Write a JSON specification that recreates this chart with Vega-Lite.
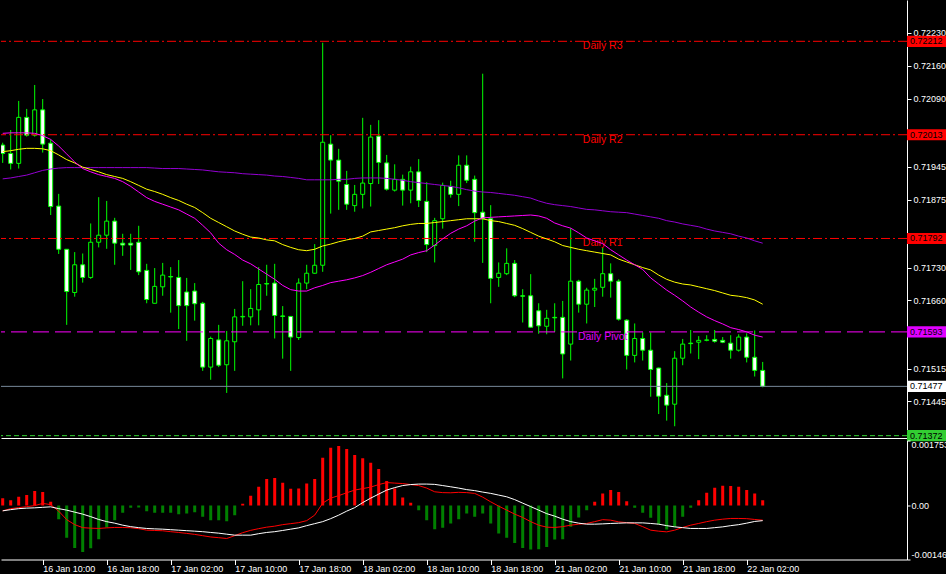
{
"$schema":"https://vega.github.io/schema/vega-lite/v6.json",
"background":"black",
"padding":0,
"spacing":2.5,
"bounds":"flush",
"config":{"view":{"stroke":null},"font":"Liberation Sans","scale":{"continuousPadding":0},"axis":{"labelFont":"Liberation Sans","labelFontSize":9,"labelColor":"white","domainColor":"white","tickColor":"white","grid":false}},
"datasets":{
"levels":[
{"name":"Daily R3","price":0.72212,"kind":"R","at":75},
{"name":"Daily R2","price":0.72013,"kind":"R","at":75},
{"name":"Daily R1","price":0.71792,"kind":"R","at":75},
{"name":"Daily Pivot","price":0.71593,"kind":"P","at":75},
{"name":"","price":0.71477,"kind":"cur","at":75},
{"name":"","price":0.71372,"kind":"S","at":75}],
"bars":[
{"i":0,"o":0.71991,"h":0.71996,"l":0.71953,"c":0.71973,"mf":0.72016,"mm":0.71977,"ms":0.71919,"hist":0.000197,"macd":-0.000146,"sig":-0.000146},
{"i":1,"o":0.71973,"h":0.72023,"l":0.71939,"c":0.71952,"mf":0.72017,"mm":0.71979,"ms":0.71921,"hist":0.000143,"macd":-0.000087,"sig":-0.000114},
{"i":2,"o":0.71952,"h":0.72085,"l":0.71941,"c":0.72050,"mf":0.72017,"mm":0.71982,"ms":0.71924,"hist":0.000233,"macd":-0.000060,"sig":-0.000087},
{"i":3,"o":0.72050,"h":0.72068,"l":0.72009,"c":0.72012,"mf":0.72017,"mm":0.71984,"ms":0.71927,"hist":0.000279,"macd":-0.000032,"sig":-0.000073},
{"i":4,"o":0.72012,"h":0.72119,"l":0.72009,"c":0.72066,"mf":0.72016,"mm":0.71984,"ms":0.71932,"hist":0.000387,"macd":-0.000005,"sig":-0.000065},
{"i":5,"o":0.72066,"h":0.72089,"l":0.71975,"c":0.71993,"mf":0.72011,"mm":0.71983,"ms":0.71937,"hist":0.000360,"macd":0.000054,"sig":-0.000051},
{"i":6,"o":0.71995,"h":0.72003,"l":0.71842,"c":0.71860,"mf":0.72003,"mm":0.71979,"ms":0.71940,"hist":0.000097,"macd":0.000022,"sig":-0.000038},
{"i":7,"o":0.71861,"h":0.71887,"l":0.71759,"c":0.71769,"mf":0.71989,"mm":0.71970,"ms":0.71942,"hist":-0.000371,"macd":-0.000154,"sig":-0.000087},
{"i":8,"o":0.71769,"h":0.71769,"l":0.71608,"c":0.71679,"mf":0.71972,"mm":0.71960,"ms":0.71943,"hist":-0.000876,"macd":-0.000384,"sig":-0.000127},
{"i":9,"o":0.71677,"h":0.71763,"l":0.71668,"c":0.71736,"mf":0.71955,"mm":0.71953,"ms":0.71943,"hist":-0.001147,"macd":-0.000519,"sig":-0.000181},
{"i":10,"o":0.71736,"h":0.71760,"l":0.71698,"c":0.71709,"mf":0.71941,"mm":0.71944,"ms":0.71943,"hist":-0.001255,"macd":-0.000600,"sig":-0.000235},
{"i":11,"o":0.71709,"h":0.71824,"l":0.71706,"c":0.71784,"mf":0.71934,"mm":0.71939,"ms":0.71943,"hist":-0.001155,"macd":-0.000614,"sig":-0.000303},
{"i":12,"o":0.71784,"h":0.71880,"l":0.71773,"c":0.71799,"mf":0.71928,"mm":0.71934,"ms":0.71943,"hist":-0.000911,"macd":-0.000622,"sig":-0.000379},
{"i":13,"o":0.71799,"h":0.71872,"l":0.71770,"c":0.71829,"mf":0.71924,"mm":0.71928,"ms":0.71943,"hist":-0.000595,"macd":-0.000606,"sig":-0.000438},
{"i":14,"o":0.71829,"h":0.71836,"l":0.71736,"c":0.71782,"mf":0.71920,"mm":0.71924,"ms":0.71943,"hist":-0.000398,"macd":-0.000595,"sig":-0.000479},
{"i":15,"o":0.71782,"h":0.71802,"l":0.71755,"c":0.71778,"mf":0.71913,"mm":0.71920,"ms":0.71943,"hist":-0.000200,"macd":-0.000595,"sig":-0.000533},
{"i":16,"o":0.71782,"h":0.71802,"l":0.71725,"c":0.71778,"mf":0.71903,"mm":0.71913,"ms":0.71943,"hist":-0.000065,"macd":-0.000603,"sig":-0.000573},
{"i":17,"o":0.71784,"h":0.71819,"l":0.71714,"c":0.71721,"mf":0.71891,"mm":0.71905,"ms":0.71943,"hist":-0.000054,"macd":-0.000627,"sig":-0.000600},
{"i":18,"o":0.71724,"h":0.71738,"l":0.71654,"c":0.71662,"mf":0.71879,"mm":0.71897,"ms":0.71943,"hist":-0.000154,"macd":-0.000668,"sig":-0.000622},
{"i":19,"o":0.71654,"h":0.71729,"l":0.71654,"c":0.71690,"mf":0.71871,"mm":0.71892,"ms":0.71942,"hist":-0.000200,"macd":-0.000676,"sig":-0.000633},
{"i":20,"o":0.71689,"h":0.71740,"l":0.71670,"c":0.71714,"mf":0.71865,"mm":0.71886,"ms":0.71941,"hist":-0.000200,"macd":-0.000684,"sig":-0.000641},
{"i":21,"o":0.71711,"h":0.71731,"l":0.71634,"c":0.71710,"mf":0.71859,"mm":0.71879,"ms":0.71941,"hist":-0.000200,"macd":-0.000709,"sig":-0.000655},
{"i":22,"o":0.71709,"h":0.71746,"l":0.71599,"c":0.71649,"mf":0.71853,"mm":0.71873,"ms":0.71941,"hist":-0.000235,"macd":-0.000730,"sig":-0.000668},
{"i":23,"o":0.71678,"h":0.71708,"l":0.71574,"c":0.71649,"mf":0.71844,"mm":0.71865,"ms":0.71940,"hist":-0.000216,"macd":-0.000755,"sig":-0.000682},
{"i":24,"o":0.71680,"h":0.71697,"l":0.71617,"c":0.71653,"mf":0.71835,"mm":0.71858,"ms":0.71939,"hist":-0.000181,"macd":-0.000782,"sig":-0.000695},
{"i":25,"o":0.71654,"h":0.71657,"l":0.71510,"c":0.71518,"mf":0.71820,"mm":0.71847,"ms":0.71938,"hist":-0.000308,"macd":-0.000817,"sig":-0.000709},
{"i":26,"o":0.71518,"h":0.71583,"l":0.71491,"c":0.71579,"mf":0.71804,"mm":0.71835,"ms":0.71936,"hist":-0.000398,"macd":-0.000852,"sig":-0.000730},
{"i":27,"o":0.71576,"h":0.71608,"l":0.71518,"c":0.71522,"mf":0.71782,"mm":0.71826,"ms":0.71934,"hist":-0.000398,"macd":-0.000871,"sig":-0.000749},
{"i":28,"o":0.71523,"h":0.71595,"l":0.71463,"c":0.71574,"mf":0.71768,"mm":0.71817,"ms":0.71933,"hist":-0.000425,"macd":-0.000893,"sig":-0.000776},
{"i":29,"o":0.71572,"h":0.71642,"l":0.71510,"c":0.71625,"mf":0.71758,"mm":0.71808,"ms":0.71932,"hist":-0.000262,"macd":-0.000817,"sig":-0.000803},
{"i":30,"o":0.71625,"h":0.71701,"l":0.71606,"c":0.71626,"mf":0.71746,"mm":0.71801,"ms":0.71930,"hist":0.000043,"macd":-0.000736,"sig":-0.000803},
{"i":31,"o":0.71625,"h":0.71684,"l":0.71607,"c":0.71643,"mf":0.71738,"mm":0.71795,"ms":0.71929,"hist":0.000260,"macd":-0.000673,"sig":-0.000803},
{"i":32,"o":0.71640,"h":0.71731,"l":0.71607,"c":0.71694,"mf":0.71727,"mm":0.71793,"ms":0.71928,"hist":0.000503,"macd":-0.000627,"sig":-0.000763},
{"i":33,"o":0.71696,"h":0.71736,"l":0.71670,"c":0.71695,"mf":0.71716,"mm":0.71789,"ms":0.71927,"hist":0.000711,"macd":-0.000587,"sig":-0.000730},
{"i":34,"o":0.71697,"h":0.71738,"l":0.71579,"c":0.71628,"mf":0.71705,"mm":0.71787,"ms":0.71925,"hist":0.000738,"macd":-0.000560,"sig":-0.000709},
{"i":35,"o":0.71627,"h":0.71648,"l":0.71536,"c":0.71626,"mf":0.71692,"mm":0.71779,"ms":0.71924,"hist":0.000611,"macd":-0.000519,"sig":-0.000676},
{"i":36,"o":0.71626,"h":0.71626,"l":0.71510,"c":0.71582,"mf":0.71683,"mm":0.71773,"ms":0.71922,"hist":0.000449,"macd":-0.000492,"sig":-0.000641},
{"i":37,"o":0.71581,"h":0.71707,"l":0.71576,"c":0.71697,"mf":0.71680,"mm":0.71768,"ms":0.71920,"hist":0.000460,"macd":-0.000465,"sig":-0.000606},
{"i":38,"o":0.71697,"h":0.71736,"l":0.71684,"c":0.71718,"mf":0.71680,"mm":0.71766,"ms":0.71917,"hist":0.000595,"macd":-0.000411,"sig":-0.000546},
{"i":39,"o":0.71718,"h":0.71780,"l":0.71717,"c":0.71735,"mf":0.71687,"mm":0.71769,"ms":0.71917,"hist":0.000711,"macd":-0.000262,"sig":-0.000492},
{"i":40,"o":0.71735,"h":0.72209,"l":0.71721,"c":0.71997,"mf":0.71692,"mm":0.71776,"ms":0.71917,"hist":0.001287,"macd":0.000062,"sig":-0.000438},
{"i":41,"o":0.71993,"h":0.72012,"l":0.71845,"c":0.71959,"mf":0.71698,"mm":0.71780,"ms":0.71917,"hist":0.001558,"macd":0.000197,"sig":-0.000357},
{"i":42,"o":0.71959,"h":0.71983,"l":0.71853,"c":0.71914,"mf":0.71701,"mm":0.71785,"ms":0.71918,"hist":0.001604,"macd":0.000265,"sig":-0.000262},
{"i":43,"o":0.71907,"h":0.71936,"l":0.71853,"c":0.71865,"mf":0.71704,"mm":0.71789,"ms":0.71918,"hist":0.001523,"macd":0.000341,"sig":-0.000154},
{"i":44,"o":0.71862,"h":0.71906,"l":0.71849,"c":0.71886,"mf":0.71708,"mm":0.71792,"ms":0.71920,"hist":0.001360,"macd":0.000414,"sig":-0.000060},
{"i":45,"o":0.71886,"h":0.72049,"l":0.71856,"c":0.71910,"mf":0.71713,"mm":0.71797,"ms":0.71921,"hist":0.001271,"macd":0.000454,"sig":0.000076},
{"i":46,"o":0.71909,"h":0.72034,"l":0.71860,"c":0.72008,"mf":0.71720,"mm":0.71806,"ms":0.71921,"hist":0.001152,"macd":0.000495,"sig":0.000197},
{"i":47,"o":0.72010,"h":0.72044,"l":0.71908,"c":0.71954,"mf":0.71728,"mm":0.71809,"ms":0.71921,"hist":0.000982,"macd":0.000563,"sig":0.000306},
{"i":48,"o":0.71953,"h":0.71970,"l":0.71894,"c":0.71897,"mf":0.71736,"mm":0.71812,"ms":0.71920,"hist":0.000657,"macd":0.000617,"sig":0.000414},
{"i":49,"o":0.71895,"h":0.71950,"l":0.71892,"c":0.71918,"mf":0.71742,"mm":0.71815,"ms":0.71918,"hist":0.000460,"macd":0.000603,"sig":0.000481},
{"i":50,"o":0.71918,"h":0.71928,"l":0.71862,"c":0.71895,"mf":0.71748,"mm":0.71819,"ms":0.71916,"hist":0.000216,"macd":0.000590,"sig":0.000536},
{"i":51,"o":0.71895,"h":0.71945,"l":0.71867,"c":0.71934,"mf":0.71757,"mm":0.71822,"ms":0.71913,"hist":0.000070,"macd":0.000563,"sig":0.000563},
{"i":52,"o":0.71934,"h":0.71961,"l":0.71859,"c":0.71873,"mf":0.71762,"mm":0.71824,"ms":0.71911,"hist":-0.000127,"macd":0.000536,"sig":0.000576},
{"i":53,"o":0.71871,"h":0.71912,"l":0.71763,"c":0.71779,"mf":0.71766,"mm":0.71824,"ms":0.71909,"hist":-0.000398,"macd":0.000468,"sig":0.000576},
{"i":54,"o":0.71777,"h":0.71836,"l":0.71741,"c":0.71830,"mf":0.71778,"mm":0.71826,"ms":0.71907,"hist":-0.000641,"macd":0.000368,"sig":0.000568},
{"i":55,"o":0.71834,"h":0.71911,"l":0.71813,"c":0.71905,"mf":0.71791,"mm":0.71828,"ms":0.71905,"hist":-0.000606,"macd":0.000346,"sig":0.000536},
{"i":56,"o":0.71903,"h":0.71915,"l":0.71879,"c":0.71886,"mf":0.71803,"mm":0.71830,"ms":0.71903,"hist":-0.000487,"macd":0.000341,"sig":0.000503},
{"i":57,"o":0.71886,"h":0.71969,"l":0.71861,"c":0.71948,"mf":0.71812,"mm":0.71832,"ms":0.71900,"hist":-0.000371,"macd":0.000354,"sig":0.000468},
{"i":58,"o":0.71948,"h":0.71969,"l":0.71910,"c":0.71916,"mf":0.71819,"mm":0.71834,"ms":0.71896,"hist":-0.000216,"macd":0.000346,"sig":0.000427},
{"i":59,"o":0.71918,"h":0.71926,"l":0.71785,"c":0.71847,"mf":0.71829,"mm":0.71834,"ms":0.71893,"hist":-0.000308,"macd":0.000325,"sig":0.000400},
{"i":60,"o":0.71848,"h":0.72143,"l":0.71740,"c":0.71834,"mf":0.71836,"mm":0.71834,"ms":0.71891,"hist":-0.000216,"macd":0.000224,"sig":0.000360},
{"i":61,"o":0.71834,"h":0.71863,"l":0.71654,"c":0.71707,"mf":0.71837,"mm":0.71830,"ms":0.71890,"hist":-0.000487,"macd":0.000097,"sig":0.000325},
{"i":62,"o":0.71709,"h":0.71741,"l":0.71689,"c":0.71718,"mf":0.71838,"mm":0.71828,"ms":0.71888,"hist":-0.000757,"macd":-0.000019,"sig":0.000279},
{"i":63,"o":0.71717,"h":0.71771,"l":0.71714,"c":0.71739,"mf":0.71839,"mm":0.71824,"ms":0.71886,"hist":-0.000876,"macd":-0.000127,"sig":0.000233},
{"i":64,"o":0.71739,"h":0.71746,"l":0.71667,"c":0.71670,"mf":0.71840,"mm":0.71820,"ms":0.71884,"hist":-0.001012,"macd":-0.000235,"sig":0.000157},
{"i":65,"o":0.71670,"h":0.71684,"l":0.71613,"c":0.71669,"mf":0.71841,"mm":0.71813,"ms":0.71881,"hist":-0.001147,"macd":-0.000325,"sig":0.000062},
{"i":66,"o":0.71670,"h":0.71716,"l":0.71602,"c":0.71603,"mf":0.71842,"mm":0.71805,"ms":0.71878,"hist":-0.001190,"macd":-0.000438,"sig":-0.000032},
{"i":67,"o":0.71638,"h":0.71654,"l":0.71589,"c":0.71606,"mf":0.71840,"mm":0.71797,"ms":0.71872,"hist":-0.001182,"macd":-0.000533,"sig":-0.000127},
{"i":68,"o":0.71605,"h":0.71640,"l":0.71588,"c":0.71622,"mf":0.71835,"mm":0.71791,"ms":0.71867,"hist":-0.001120,"macd":-0.000587,"sig":-0.000222},
{"i":69,"o":0.71624,"h":0.71654,"l":0.71593,"c":0.71623,"mf":0.71825,"mm":0.71785,"ms":0.71864,"hist":-0.000920,"macd":-0.000595,"sig":-0.000289},
{"i":70,"o":0.71624,"h":0.71659,"l":0.71494,"c":0.71546,"mf":0.71819,"mm":0.71777,"ms":0.71862,"hist":-0.000911,"macd":-0.000573,"sig":-0.000371},
{"i":71,"o":0.71567,"h":0.71814,"l":0.71532,"c":0.71701,"mf":0.71814,"mm":0.71773,"ms":0.71860,"hist":-0.000579,"macd":-0.000533,"sig":-0.000438},
{"i":72,"o":0.71701,"h":0.71704,"l":0.71634,"c":0.71652,"mf":0.71804,"mm":0.71769,"ms":0.71857,"hist":-0.000325,"macd":-0.000506,"sig":-0.000479},
{"i":73,"o":0.71652,"h":0.71687,"l":0.71611,"c":0.71682,"mf":0.71793,"mm":0.71766,"ms":0.71854,"hist":-0.000127,"macd":-0.000487,"sig":-0.000506},
{"i":74,"o":0.71682,"h":0.71706,"l":0.71646,"c":0.71686,"mf":0.71787,"mm":0.71763,"ms":0.71853,"hist":0.000097,"macd":-0.000438,"sig":-0.000506},
{"i":75,"o":0.71688,"h":0.71772,"l":0.71668,"c":0.71717,"mf":0.71781,"mm":0.71760,"ms":0.71851,"hist":0.000325,"macd":-0.000384,"sig":-0.000498},
{"i":76,"o":0.71717,"h":0.71739,"l":0.71666,"c":0.71701,"mf":0.71768,"mm":0.71757,"ms":0.71849,"hist":0.000414,"macd":-0.000398,"sig":-0.000487},
{"i":77,"o":0.71701,"h":0.71705,"l":0.71617,"c":0.71620,"mf":0.71757,"mm":0.71748,"ms":0.71848,"hist":0.000360,"macd":-0.000444,"sig":-0.000479},
{"i":78,"o":0.71618,"h":0.71620,"l":0.71513,"c":0.71543,"mf":0.71746,"mm":0.71742,"ms":0.71847,"hist":0.000116,"macd":-0.000465,"sig":-0.000471},
{"i":79,"o":0.71543,"h":0.71611,"l":0.71528,"c":0.71579,"mf":0.71736,"mm":0.71736,"ms":0.71844,"hist":-0.000065,"macd":-0.000487,"sig":-0.000471},
{"i":80,"o":0.71579,"h":0.71592,"l":0.71532,"c":0.71554,"mf":0.71726,"mm":0.71730,"ms":0.71841,"hist":-0.000200,"macd":-0.000573,"sig":-0.000471},
{"i":81,"o":0.71554,"h":0.71592,"l":0.71455,"c":0.71513,"mf":0.71708,"mm":0.71725,"ms":0.71838,"hist":-0.000335,"macd":-0.000668,"sig":-0.000487},
{"i":82,"o":0.71516,"h":0.71517,"l":0.71418,"c":0.71456,"mf":0.71695,"mm":0.71714,"ms":0.71835,"hist":-0.000514,"macd":-0.000695,"sig":-0.000506},
{"i":83,"o":0.71458,"h":0.71484,"l":0.71404,"c":0.71437,"mf":0.71682,"mm":0.71705,"ms":0.71830,"hist":-0.000649,"macd":-0.000714,"sig":-0.000546},
{"i":84,"o":0.71439,"h":0.71552,"l":0.71392,"c":0.71537,"mf":0.71671,"mm":0.71699,"ms":0.71827,"hist":-0.000579,"macd":-0.000668,"sig":-0.000579},
{"i":85,"o":0.71537,"h":0.71578,"l":0.71522,"c":0.71567,"mf":0.71659,"mm":0.71695,"ms":0.71823,"hist":-0.000308,"macd":-0.000595,"sig":-0.000600},
{"i":86,"o":0.71569,"h":0.71597,"l":0.71547,"c":0.71568,"mf":0.71646,"mm":0.71693,"ms":0.71820,"hist":-0.000065,"macd":-0.000533,"sig":-0.000622},
{"i":87,"o":0.71571,"h":0.71584,"l":0.71535,"c":0.71575,"mf":0.71635,"mm":0.71689,"ms":0.71817,"hist":0.000143,"macd":-0.000487,"sig":-0.000622},
{"i":88,"o":0.71575,"h":0.71586,"l":0.71573,"c":0.71576,"mf":0.71625,"mm":0.71685,"ms":0.71812,"hist":0.000341,"macd":-0.000438,"sig":-0.000622},
{"i":89,"o":0.71577,"h":0.71597,"l":0.71570,"c":0.71573,"mf":0.71617,"mm":0.71681,"ms":0.71808,"hist":0.000476,"macd":-0.000398,"sig":-0.000600},
{"i":90,"o":0.71575,"h":0.71582,"l":0.71569,"c":0.71571,"mf":0.71610,"mm":0.71676,"ms":0.71805,"hist":0.000530,"macd":-0.000371,"sig":-0.000579},
{"i":91,"o":0.71569,"h":0.71586,"l":0.71536,"c":0.71554,"mf":0.71602,"mm":0.71671,"ms":0.71802,"hist":0.000522,"macd":-0.000352,"sig":-0.000546},
{"i":92,"o":0.71554,"h":0.71588,"l":0.71551,"c":0.71582,"mf":0.71598,"mm":0.71669,"ms":0.71797,"hist":0.000503,"macd":-0.000352,"sig":-0.000519},
{"i":93,"o":0.71582,"h":0.71590,"l":0.71528,"c":0.71539,"mf":0.71593,"mm":0.71666,"ms":0.71793,"hist":0.000414,"macd":-0.000357,"sig":-0.000479},
{"i":94,"o":0.71539,"h":0.71596,"l":0.71498,"c":0.71511,"mf":0.71586,"mm":0.71661,"ms":0.71787,"hist":0.000325,"macd":-0.000379,"sig":-0.000433},
{"i":95,"o":0.71511,"h":0.71529,"l":0.71475,"c":0.71477,"mf":0.71582,"mm":0.71652,"ms":0.71782,"hist":0.000143,"macd":-0.000398,"sig":-0.000411}
]},
"vconcat":[
{"width":906,"height":438,
"layer":[
{"data":{"name":"bars"},"mark":{"type":"rule","stroke":"#00FF00","strokeWidth":1,"clip":true},
"encoding":{
"x":{"field":"i","type":"quantitative","title":null,"scale":{"domain":[-0.2125,113.0375],"nice":false,"zero":false,"padding":0},
"axis":{"orient":"bottom","labels":false,"ticks":false,"domain":true,"domainColor":"white","title":null,"minExtent":0,"maxExtent":1}},
"y":{"field":"l","type":"quantitative","title":null,"scale":{"domain":[0.71367,0.723],"nice":false,"zero":false,"padding":0},
"axis":{"orient":"right","values":[0.7223,0.7216,0.7209,0.71945,0.71875,0.7173,0.7166,0.71515,0.71445],"format":".5f","tickSize":4,"labelPadding":2,"labelFlush":false,"labelOverlap":false,"title":null}},
"y2":{"field":"h"}}},
{"data":{"name":"bars"},"mark":{"type":"bar","size":4,"stroke":"#00FF00","strokeWidth":1,"clip":true},
"encoding":{
"x":{"field":"i","type":"quantitative","title":null,"scale":{"domain":[-0.2125,113.0375],"nice":false,"zero":false,"padding":0}},
"y":{"field":"o","type":"quantitative","title":null,"scale":{"domain":[0.71367,0.723],"nice":false,"zero":false,"padding":0}},
"y2":{"field":"c"},
"fill":{"condition":{"test":"datum.c < datum.o","value":"#FFFFFF"},"value":"#000000"}}},
{"data":{"name":"levels"},"mark":{"type":"rule","strokeWidth":1},
"encoding":{
"y":{"field":"price","type":"quantitative","title":null,"scale":{"domain":[0.71367,0.723],"nice":false,"zero":false,"padding":0}},
"stroke":{"field":"kind","type":"nominal","scale":{"domain":["R","P","cur","S"],"range":["#FF0000","#FF00FF","#778899","#32CD32"]},"legend":null},
"strokeDash":{"field":"kind","type":"nominal","scale":{"domain":["R","P","cur","S"],"range":[[9,3,2,3],[16,6],[1,0],[5,3]]},"legend":null}}},
{"data":{"name":"levels"},"transform":[{"filter":"datum.name != ''"}],
"mark":{"type":"text","align":"center","baseline":"top","dy":0,"font":"Liberation Sans","fontSize":10.5},
"encoding":{
"x":{"field":"at","type":"quantitative","title":null,"scale":{"domain":[-0.2125,113.0375],"nice":false,"zero":false,"padding":0}},
"y":{"field":"price","type":"quantitative","title":null,"scale":{"domain":[0.71367,0.723],"nice":false,"zero":false,"padding":0}},
"text":{"field":"name"},
"fill":{"field":"kind","type":"nominal","scale":{"domain":["R","P","cur","S"],"range":["#FF0000","#E000FF","#FFFFFF","#32CD32"]},"legend":null}}},
{"data":{"name":"bars"},"mark":{"type":"line","stroke":"#9400D3","strokeWidth":1,"clip":true},
"encoding":{
"x":{"field":"i","type":"quantitative","title":null,"scale":{"domain":[-0.2125,113.0375],"nice":false,"zero":false,"padding":0}},
"y":{"field":"ms","type":"quantitative","title":null,"scale":{"domain":[0.71367,0.723],"nice":false,"zero":false,"padding":0}}}},
{"data":{"name":"bars"},"mark":{"type":"line","stroke":"#FFFF00","strokeWidth":1,"clip":true},
"encoding":{
"x":{"field":"i","type":"quantitative","title":null,"scale":{"domain":[-0.2125,113.0375],"nice":false,"zero":false,"padding":0}},
"y":{"field":"mm","type":"quantitative","title":null,"scale":{"domain":[0.71367,0.723],"nice":false,"zero":false,"padding":0}}}},
{"data":{"name":"bars"},"mark":{"type":"line","stroke":"#FF00FF","strokeWidth":1,"clip":true},
"encoding":{
"x":{"field":"i","type":"quantitative","title":null,"scale":{"domain":[-0.2125,113.0375],"nice":false,"zero":false,"padding":0}},
"y":{"field":"mf","type":"quantitative","title":null,"scale":{"domain":[0.71367,0.723],"nice":false,"zero":false,"padding":0}}}},
{"data":{"name":"levels"},"mark":{"type":"point","shape":"M0,-0.28H2V0.28H0Z","size":1600,"filled":true,"opacity":1,"strokeWidth":0},
"encoding":{
"x":{"value":"width"},
"y":{"field":"price","type":"quantitative","title":null,"scale":{"domain":[0.71367,0.723],"nice":false,"zero":false,"padding":0}},
"fill":{"field":"kind","type":"nominal","scale":{"domain":["R","P","cur","S"],"range":["#FF0000","#E000FF","#FFFFFF","#32CD32"]},"legend":null}}},
{"data":{"name":"levels"},"mark":{"type":"text","align":"left","baseline":"middle","dx":3,"font":"Liberation Sans","fontSize":9,"fill":"#000000"},
"encoding":{
"x":{"value":"width"},
"y":{"field":"price","type":"quantitative","title":null,"scale":{"domain":[0.71367,0.723],"nice":false,"zero":false,"padding":0}},
"text":{"field":"price","type":"quantitative","format":".5f"}}}
]},
{"width":906,"height":119,"data":{"name":"bars"},
"layer":[
{"mark":{"type":"bar","size":3,"clip":true},
"encoding":{
"x":{"field":"i","type":"quantitative","title":null,"scale":{"domain":[-0.2125,113.0375],"nice":false,"zero":false,"padding":0},
"axis":{"orient":"bottom","values":[5,13,21,29,37,45,53,61,69,77,85,93],
"labelExpr":"['16 Jan 10:00','16 Jan 18:00','17 Jan 02:00','17 Jan 10:00','17 Jan 18:00','18 Jan 02:00','18 Jan 10:00','18 Jan 18:00','21 Jan 02:00','21 Jan 10:00','21 Jan 18:00','22 Jan 02:00'][(datum.value-5)/8]",
"labelAlign":"left","labelBaseline":"top","labelPadding":0,"labelFlush":false,"labelOverlap":false,"tickSize":5,"title":null}},
"y":{"field":"hist","type":"quantitative","title":null,"scale":{"domain":[-0.00146,0.001753],"nice":false,"zero":false,"padding":0},
"axis":{"orient":"right","values":[-0.00146,0,0.001753],"labelExpr":"datum.value == 0 ? '0.00' : '' + datum.value","tickSize":3,"labelPadding":1,"labelFlush":true,"labelOverlap":false,"title":null}},
"y2":{"datum":0},
"fill":{"condition":{"test":"datum.hist >= 0","value":"#FF0000"},"value":"#008000"}}},
{"mark":{"type":"line","stroke":"#FF0000","strokeWidth":1,"clip":true},
"encoding":{
"x":{"field":"i","type":"quantitative","title":null,"scale":{"domain":[-0.2125,113.0375],"nice":false,"zero":false,"padding":0}},
"y":{"field":"macd","type":"quantitative","title":null,"scale":{"domain":[-0.00146,0.001753],"nice":false,"zero":false,"padding":0}}}},
{"mark":{"type":"line","stroke":"#FFFFFF","strokeWidth":1,"clip":true},
"encoding":{
"x":{"field":"i","type":"quantitative","title":null,"scale":{"domain":[-0.2125,113.0375],"nice":false,"zero":false,"padding":0}},
"y":{"field":"sig","type":"quantitative","title":null,"scale":{"domain":[-0.00146,0.001753],"nice":false,"zero":false,"padding":0}}}}
]}
]
}
